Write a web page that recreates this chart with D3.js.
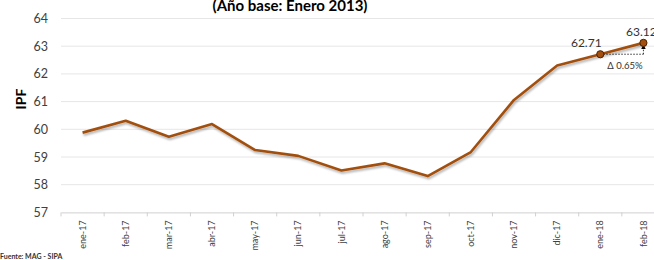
<!DOCTYPE html>
<html>
<head>
<meta charset="utf-8">
<script src="https://cdn.jsdelivr.net/npm/d3@7"></script>
<style>
  body { margin: 0; background: #fff; overflow: hidden; }
  svg { display: block; font-family: Lato, "Open Sans", sans-serif; }
</style>
</head>
<body>
<svg id="chart" width="654" height="260"></svg>
<script>
// months and IPF values
const months = ["ene-17", "feb-17", "mar-17", "abr-17", "may-17", "jun-17", "jul-17",
                "ago-17", "sep-17", "oct-17", "nov-17", "dic-17", "ene-18", "feb-18"];
const ipf = [59.88, 60.31, 59.73, 60.19, 59.25, 59.04, 58.51,
             58.77, 58.31, 59.18, 61.06, 62.30, 62.71, 63.12];
const yTicks = [57, 58, 59, 60, 61, 62, 63, 64];
const labelled = [12, 13];   // points with marker + value label
const deltaText = "\u0394 0.65%";

const svg = d3.select("#chart");
const lineColor = "#a24f0f";

// x is a band scale, plot goes past the right edge (reference is cropped)
let x = d3.scaleBand().domain(months).range([61, 665]);
let y = d3.scaleLinear().domain([57, 64]).range([212.4, 18.5]);
let cx = d => x(d) + x.bandwidth() / 2;

// title (top half cut off in the reference)
svg.append("text")
   .attr("x", 290).attr("y", 11)
   .attr("text-anchor", "middle")
   .attr("font-size", 15).attr("font-weight", "bold")
   .attr("fill", "#000")
   .text("(A\u00f1o base: Enero 2013)");

// gridlines
svg.append("g")
   .selectAll("line")
   .data(yTicks.slice(1))
   .enter()
   .append("line")
   .attr("x1", 61).attr("x2", 654)
   .attr("y1", d => y(d)).attr("y2", d => y(d))
   .attr("stroke", "#e6e6e6").attr("stroke-width", 1);

// y axis labels
let yAxis = d3.axisLeft(y).tickValues(yTicks).tickSize(0).tickPadding(0).tickFormat(d3.format("d"));
let gy = svg.append("g").attr("transform", "translate(48,0)").call(yAxis);
gy.select(".domain").remove();
gy.selectAll("text").attr("font-size", 12.5).attr("fill", "#404040").attr("font-family", "Lato, sans-serif");

// x axis
let xAxis = d3.axisBottom(x).tickSize(0).tickPadding(0);
let gx = svg.append("g").attr("transform", "translate(0," + y(57) + ")").call(xAxis);
gx.select(".domain").attr("stroke", "#d0d0d0");
gx.selectAll(".tick line").remove();
gx.selectAll(".tick text")
  .attr("transform", "rotate(-90)")
  .attr("text-anchor", "end")
  .attr("x", -8).attr("y", 0).attr("dy", "0.35em")
  .attr("font-size", 9).attr("fill", "#404040")
  .attr("font-family", "Lato, sans-serif");

// category boundary ticks
svg.append("g")
   .selectAll("line")
   .data(months)
   .enter()
   .append("line")
   .attr("x1", d => x(d)).attr("x2", d => x(d))
   .attr("y1", y(57)).attr("y2", y(57) + 4)
   .attr("stroke", "#d0d0d0");

// y axis title
svg.append("text")
   .attr("transform", "translate(26,99) rotate(-90)")
   .attr("text-anchor", "middle")
   .attr("font-size", 14).attr("font-weight", "bold")
   .text("IPF");

// line with a soft shadow
let defs = svg.append("defs");
let f = defs.append("filter").attr("id", "shadow").attr("x", "-5%").attr("y", "-5%").attr("width", "110%").attr("height", "120%");
f.append("feDropShadow").attr("dx", 1).attr("dy", 2).attr("stdDeviation", 1.2)
 .attr("flood-color", "#000").attr("flood-opacity", 0.3);

let line = d3.line().x((d, i) => cx(months[i])).y(d => y(d));
svg.append("path")
   .datum(ipf)
   .attr("d", line)
   .attr("fill", "none")
   .attr("stroke", lineColor)
   .attr("stroke-width", 2.6)
   .attr("stroke-linejoin", "round")
   .attr("filter", "url(#shadow)");

// delta annotation: dotted from ene-18 across, then arrow up to feb-18
let a = labelled[0], b = labelled[1];
defs.append("marker").attr("id", "arrow")
    .attr("viewBox", "0 0 6 6").attr("refX", 3).attr("refY", 3)
    .attr("markerWidth", 6).attr("markerHeight", 6).attr("orient", "auto")
    .append("path").attr("d", "M0,0 L6,3 L0,6 z").attr("fill", "#000");
svg.append("line")
   .attr("x1", cx(months[a])).attr("x2", cx(months[b]))
   .attr("y1", y(ipf[a])).attr("y2", y(ipf[a]))
   .attr("stroke", "#000").attr("stroke-width", 0.8).attr("stroke-dasharray", "1.5,1.5");
svg.append("line")
   .attr("x1", cx(months[b])).attr("x2", cx(months[b]))
   .attr("y1", y(ipf[a])).attr("y2", y(ipf[b]) + 4)
   .attr("stroke", "#000").attr("stroke-width", 0.8).attr("stroke-dasharray", "1.5,1.5")
   .attr("marker-end", "url(#arrow)");
svg.append("text")
   .attr("x", 625).attr("y", y(ipf[a]) + 15)
   .attr("text-anchor", "middle")
   .attr("font-size", 9.5).attr("fill", "#333")
   .text(deltaText);

// markers + value labels
svg.append("g")
   .selectAll("circle")
   .data(labelled)
   .enter()
   .append("circle")
   .attr("cx", i => cx(months[i]))
   .attr("cy", i => y(ipf[i]))
   .attr("r", 3.6)
   .attr("fill", lineColor)
   .attr("stroke", "#4a2200").attr("stroke-width", 1);

svg.append("g")
   .selectAll("text")
   .data(labelled)
   .enter()
   .append("text")
   .attr("x", i => cx(months[i]) - (i === a ? 14 : 2))
   .attr("y", i => y(ipf[i]) - 7)
   .attr("text-anchor", "middle")
   .attr("font-size", 12).attr("fill", "#333")
   .text(i => ipf[i].toFixed(2));

// source note (cut off at the bottom edge)
svg.append("text")
   .attr("x", 0).attr("y", 259)
   .attr("font-size", 7).attr("font-weight", "bold")
   .attr("fill", "#333")
   .text("Fuente: MAG - SIPA");
</script>
</body>
</html>
